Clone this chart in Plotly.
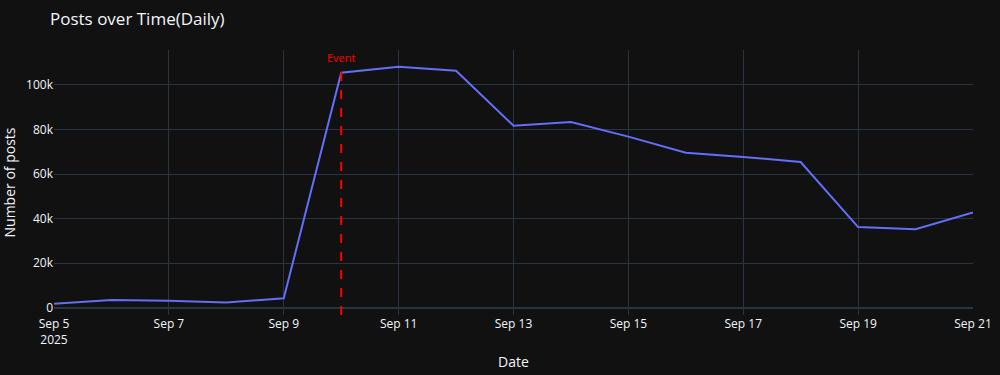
import plotly.graph_objects as go

dates = ["2025-09-05", "2025-09-06", "2025-09-07", "2025-09-08", "2025-09-09",
         "2025-09-10", "2025-09-11", "2025-09-12", "2025-09-13", "2025-09-14",
         "2025-09-15", "2025-09-16", "2025-09-17", "2025-09-18", "2025-09-19",
         "2025-09-20", "2025-09-21"]
posts = [1700, 3400, 3100, 2300, 4200, 105500, 108200, 106400, 81700, 83400,
         76800, 69600, 67700, 65400, 36200, 35200, 42800]
event_date = "2025-09-10"
event_label = "Event"
y_range = [-3300, 115700]

fig = go.Figure()
fig.add_trace(go.Scatter(x=dates, y=posts, mode="lines", line=dict(color="#636efa", width=2)))
fig.add_shape(type="line", x0=event_date, x1=event_date, xref="x",
              y0=y_range[0], y1=max(posts), yref="y",
              line=dict(color="red", dash="dash", width=2))
fig.add_annotation(x=event_date, xref="x", y=max(posts), yref="y", text=event_label,
                   showarrow=False, yanchor="bottom", font=dict(color="red", size=11))
fig.update_layout(
    template="plotly_dark",
    title="Posts over Time(Daily)",
    yaxis_range=y_range,
    width=1000, height=375,
    margin=dict(l=54, r=27, t=50, b=60),
    showlegend=False,
)
fig.update_xaxes(automargin=False, title=dict(text="Date", standoff=10))
fig.update_yaxes(automargin=False, title=dict(text="Number of posts"))
fig.write_html("out.html", config={"displayModeBar": False},
               post_script="document.body.style.margin='0';document.body.style.backgroundColor='#111111';")
